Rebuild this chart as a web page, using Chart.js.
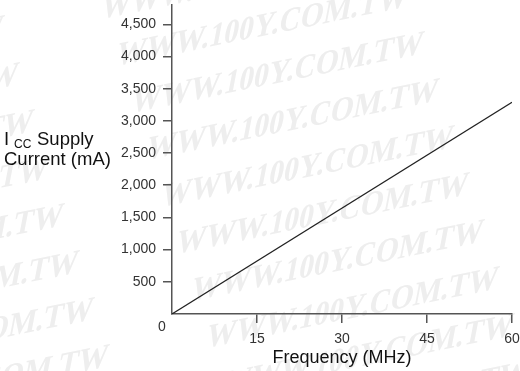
<!DOCTYPE html>
<html>
<head>
<meta charset="utf-8">
<script src="https://cdn.jsdelivr.net/npm/chart.js@4/dist/chart.umd.min.js"></script>
<style>
html, body { margin: 0; padding: 0; background: #fff; }
#wrap { width: 520px; height: 371px; position: relative; }
</style>
</head>
<body>
<div id="wrap"><canvas id="graficoIcc"></canvas></div>
<script>
// Datos
const freqMHz = [0, 60];
const supplyCurrent = [0, 3290];
const xTicks = [15, 30, 45, 60];
const yTicks = [500, 1000, 1500, 2000, 2500, 3000, 3500, 4000, 4500];

const SANS = "'Liberation Sans', Arial, sans-serif";
Chart.defaults.font.family = SANS;

// marca de agua de fondo
const watermark = {
    id: 'watermark',
    beforeDraw(chart) {
        const ctx = chart.ctx;
        ctx.save();
        ctx.fillStyle = '#eeeeee';
        ctx.font = "bold 30px 'Liberation Serif', 'Times New Roman', serif";
        ctx.textBaseline = 'alphabetic';
        for (let r = -8; r <= 10; r++) {
            for (let c = -2; c <= 3; c++) {
                const sx = -230 + c * 390 + r * 15;
                const sy = 285 - c * 78 + r * 47;
                if (sx > 540 || sx < -340 || sy < -40 || sy > 460) continue;
                ctx.setTransform(0.98, -0.2, -0.22, 1.15, sx, sy);
                ctx.fillText('WWW.100Y.COM.TW', 0, 0);
            }
        }
        ctx.restore();
    }
};

// título del eje Y (horizontal) y el "0" de la esquina
const extraText = {
    id: 'extraText',
    afterDraw(chart) {
        const ctx = chart.ctx;
        const x = chart.scales.x, y = chart.scales.y;
        ctx.save();
        ctx.fillStyle = '#111';
        ctx.textBaseline = 'alphabetic';
        ctx.textAlign = 'left';
        ctx.font = '18.5px ' + SANS;
        ctx.fillText('I', 4, 145);
        ctx.fillText('Supply', 37, 145);
        ctx.fillText('Current (mA)', 4, 165);
        ctx.font = '12px ' + SANS;
        ctx.fillText('CC', 14, 148);

        ctx.fillStyle = '#333';
        ctx.font = '14px ' + SANS;
        ctx.textAlign = 'center';
        ctx.textBaseline = 'middle';
        ctx.fillText('0', x.getPixelForValue(0) - 10, y.getPixelForValue(0) + 13);
        ctx.restore();
    }
};

const ctxIcc = document.getElementById('graficoIcc').getContext('2d');
new Chart(ctxIcc, {
    type: 'line',
    data: {
        datasets: [{
            data: freqMHz.map((f, i) => ({ x: f, y: supplyCurrent[i] })),
            borderColor: '#222',
            borderWidth: 1.2,
            pointRadius: 0,
            tension: 0
        }]
    },
    options: {
        responsive: true,
        maintainAspectRatio: false,
        animation: false,
        layout: { padding: { top: 5, right: 8, left: 0, bottom: 0 } },
        plugins: { legend: { display: false }, tooltip: { enabled: false } },
        scales: {
            x: {
                type: 'linear',
                min: 0,
                max: 60,
                afterBuildTicks: s => { s.ticks = xTicks.map(v => ({ value: v })); },
                afterFit: s => { s.height = 57; s.paddingLeft = 0; s.paddingRight = 0; },
                grid: { drawOnChartArea: false, drawTicks: true, tickLength: 9, color: '#555', lineWidth: 1.5 },
                border: { display: true, color: '#555', width: 1.5 },
                ticks: { color: '#333', font: { size: 14 }, padding: 8, maxRotation: 0 },
                title: { display: true, text: 'Frequency (MHz)', color: '#111', font: { size: 18 }, padding: { top: 0, bottom: 2 } }
            },
            y: {
                min: 0,
                max: 4800,
                afterBuildTicks: s => { s.ticks = yTicks.map(v => ({ value: v })); },
                afterFit: s => { s.width = 172; s.paddingTop = 0; s.paddingBottom = 0; },
                grid: { drawOnChartArea: false, drawTicks: true, tickLength: 9, color: '#555', lineWidth: 1.5 },
                border: { display: true, color: '#555', width: 1.5 },
                ticks: { color: '#333', font: { size: 14 }, padding: 7, callback: v => v.toLocaleString('en-US') }
            }
        }
    },
    plugins: [watermark, extraText]
});
</script>
</body>
</html>
